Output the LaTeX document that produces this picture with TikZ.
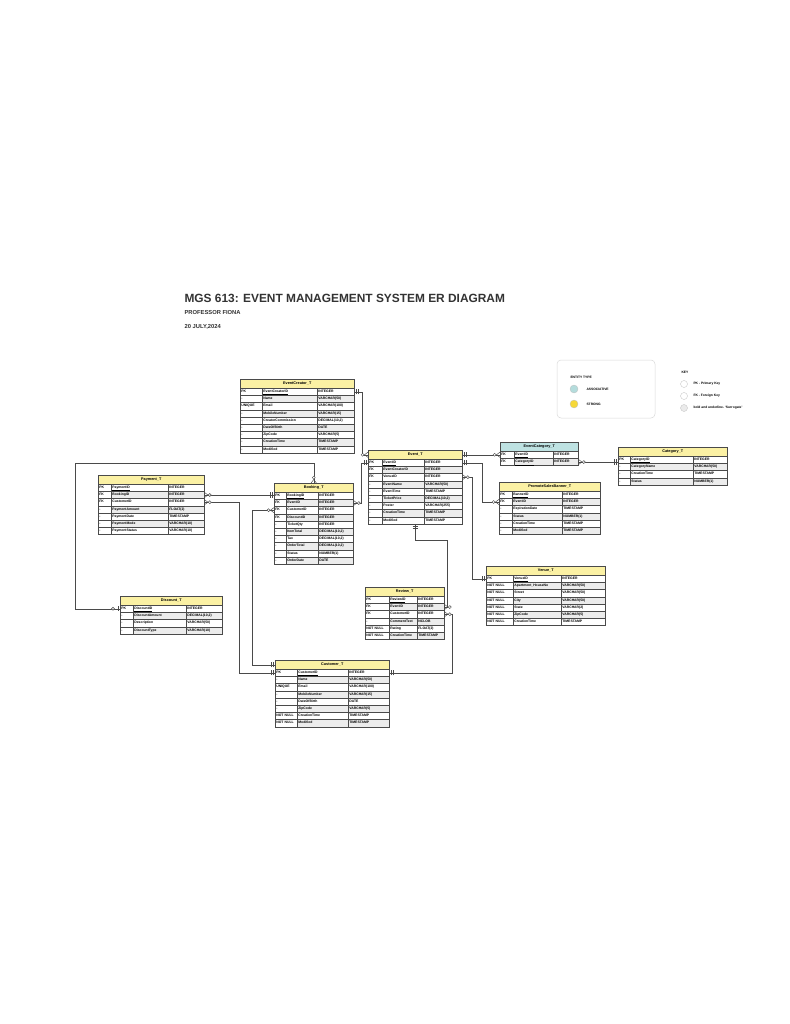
\documentclass[tikz,border=0pt]{standalone}
\usepackage{fontspec}
\setmainfont{Liberation Sans}
\usetikzlibrary{calc,decorations.markings}

\definecolor{hdryellow}{HTML}{FBF1A4}
\definecolor{hdrteal}{HTML}{BEE2E2}
\definecolor{rowgray}{HTML}{ECECEC}
\definecolor{linegray}{HTML}{4A4A4A}
\definecolor{dotyellow}{HTML}{F6D838}
\definecolor{dotteal}{HTML}{B4DCDC}

\tikzset{
  tabhead/.style={draw=linegray, line width=0.5pt, inner sep=0pt, minimum height=9pt,
    anchor=north west, font=\fontsize{3.8}{4}\selectfont\bfseries},
  cell/.style={draw=linegray, line width=0.35pt, inner sep=0pt, inner xsep=1.2pt,
    minimum height=7.2pt, anchor=north west, align=left, text height=2.5pt, text depth=0.9pt,
    font=\fontsize{3.4}{3.8}\selectfont\bfseries},
  rowbox/.style={inner sep=0pt, minimum height=7.2pt, anchor=north west},
  erline/.style={draw=linegray, line width=0.5pt},
  one start/.style={postaction={decorate, decoration={markings,
    mark=at position 2pt with {\draw[linegray, line width=0.45pt] (0,-2.6pt) -- (0,2.6pt);},
    mark=at position 3.6pt with {\draw[linegray, line width=0.45pt] (0,-2.6pt) -- (0,2.6pt);}}}},
  one end/.style={postaction={decorate, decoration={markings,
    mark=at position -3.6pt with {\draw[linegray, line width=0.45pt] (0,-2.6pt) -- (0,2.6pt);},
    mark=at position -2pt with {\draw[linegray, line width=0.45pt] (0,-2.6pt) -- (0,2.6pt);}}}},
  many start/.style={postaction={decorate, decoration={markings,
    mark=at position 0.01pt with {\draw[linegray, line width=0.45pt] (0,2.6pt) -- (3.5pt,0) -- (0,-2.6pt);
      \draw[linegray, line width=0.45pt, fill=white] (5.4pt,0) circle (1.5pt);}}}},
  many end/.style={postaction={decorate, decoration={markings,
    mark=at position -0.01pt with {\draw[linegray, line width=0.45pt] (0,2.6pt) -- (-3.5pt,0) -- (0,-2.6pt);
      \draw[linegray, line width=0.45pt, fill=white] (-5.4pt,0) circle (1.5pt);}}}},
  opt start/.style={postaction={decorate, decoration={markings,
    mark=at position 2.2pt with {\draw[linegray, line width=0.45pt] (0,-2.6pt) -- (0,2.6pt);
      \draw[linegray, line width=0.45pt, fill=white] (4.8pt,0) circle (1.5pt);}}}},
}

% name, x, y, col widths, title, header colour, rows
\newcommand\ertable[9]{%
  \pgfmathsetmacro\tw{#4+#5+#6}
  \pgfmathsetmacro\twa{#4-2.4}
  \pgfmathsetmacro\twb{#5-2.4}
  \pgfmathsetmacro\twc{#6-2.4}
  \node[tabhead, fill=#8, minimum width=\tw pt] (#1) at (#2,#3) {#7};
  \foreach \k/\a/\t [count=\i] in {#9}{
    \pgfmathsetmacro\ry{#3+9+(\i-1)*7.2}
    \ifodd\i \def\rf{white}\else \def\rf{rowgray}\fi
    \node[cell, fill=white, text width=\twa pt] (#1-\i-k) at (#2,\ry) {\k};
    \node[cell, fill=\rf, text width=\twb pt] (#1-\i-a) at (#2+#4,\ry) {\a};
    \node[cell, fill=\rf, text width=\twc pt] (#1-\i-t) at (#2+#4+#5,\ry) {\t};
    \node[rowbox, minimum width=\tw pt] (#1-\i) at (#2,\ry) {};
  }
}

\begin{document}
\begin{tikzpicture}[x=1pt, y=-1pt]
  \fill[white] (0,0) rectangle (789,1024);
  \useasboundingbox (0,0) rectangle (789,1024);

  \node[anchor=west, font=\fontsize{11.9}{12}\selectfont\bfseries, text=black!80] (title) at (181,298)
    {MGS 613: EVENT MANAGEMENT SYSTEM ER DIAGRAM};
  \node[anchor=west, font=\fontsize{5.8}{6}\selectfont\bfseries, text=black!80] (prof) at (181,313) {PROFESSOR FIONA};
  \node[anchor=west, font=\fontsize{5.8}{6}\selectfont\bfseries, text=black!80] (date) at (181,327) {20 JULY,2024};

  % legend
  \draw[black!15, rounded corners=4pt, line width=0.5pt] (557,360) rectangle (655,418);
  \node[anchor=west, font=\fontsize{3.3}{4}\selectfont\bfseries] (enttype) at (567,377) {ENTITY TYPE};
  \node[circle, fill=dotteal, draw=black!25, line width=0.3pt, minimum size=8pt, inner sep=0pt] (assocdot) at (574,389) {};
  \node[anchor=west, font=\fontsize{3.3}{4}\selectfont\bfseries] (assoc) at (583,389) {ASSOCIATIVE};
  \node[circle, fill=dotyellow, draw=black!25, line width=0.3pt, minimum size=8pt, inner sep=0pt] (strongdot) at (574,404) {};
  \node[anchor=west, font=\fontsize{3.3}{4}\selectfont\bfseries] (strong) at (583,404) {STRONG};
  \node[anchor=west, font=\fontsize{3.3}{4}\selectfont\bfseries] (keyhd) at (678,372) {KEY};
  \node[circle, fill=white, draw=black!25, line width=0.3pt, minimum size=7pt, inner sep=0pt] (pkdot) at (684,384) {};
  \node[anchor=west, font=\fontsize{3.3}{4}\selectfont\bfseries] (pkkey) at (690,384) {PK - Primary Key};
  \node[circle, fill=white, draw=black!25, line width=0.3pt, minimum size=7pt, inner sep=0pt] (fkdot) at (684,396) {};
  \node[anchor=west, font=\fontsize{3.3}{4}\selectfont\bfseries] (fkkey) at (690,396) {FK - Foreign Key};
  \node[circle, fill=black!8, draw=black!25, line width=0.3pt, minimum size=7pt, inner sep=0pt] (uldot) at (684,408) {};
  \node[anchor=west, font=\fontsize{3.3}{4}\selectfont\bfseries] (ulkey) at (690,408) {bold and underline- `Surrogate'};

  \ertable{ec}{240}{379}{22}{55}{37}{EventCreator\_T}{hdryellow}{%
    PK/\underline{EventCreatorID}/INTEGER, -/Name/VARCHAR(50), UNIQUE/Email/VARCHAR(100),
    -/MobileNumber/VARCHAR(15), -/CreatorCommission/{DECIMAL(10,2)}, -/DateOfBirth/DATE,
    -/ZipCode/VARCHAR(5), -/CreationTime/TIMESTAMP, -/Modified/TIMESTAMP}

  \ertable{event}{368}{450}{14}{42}{38}{Event\_T}{hdryellow}{%
    PK/\underline{EventID}/INTEGER, FK/EventCreatorID/INTEGER, FK/VenueID/INTEGER,
    -/EventName/VARCHAR(50), -/EventTime/TIMESTAMP, -/TicketPrice/{DECIMAL(10,2)},
    -/Poster/VARCHAR(255), -/CreationTime/TIMESTAMP, -/Modified/TIMESTAMP}

  \ertable{evcat}{500}{442}{14}{39}{25}{EventCategory\_T}{hdrteal}{%
    FK/\underline{EventID}/INTEGER, FK/\underline{CategoryID}/INTEGER}

  \ertable{cat}{618}{447}{12}{63}{34}{Category\_T}{hdryellow}{%
    PK/\underline{CategoryID}/INTEGER, -/CategoryName/VARCHAR(50), -/CreationTime/TIMESTAMP,
    -/Status/NUMBER(1)}

  \ertable{banner}{499}{482}{13}{50}{38}{PromoteSalesBanner\_T}{hdryellow}{%
    PK/\underline{BannerID}/INTEGER, FK/EventID/INTEGER, -/ExpirationDate/TIMESTAMP,
    -/Status/NUMBER(1), -/CreationTime/TIMESTAMP, -/Modified/TIMESTAMP}

  \ertable{pay}{98}{475}{13}{57}{36}{Payment\_T}{hdryellow}{%
    PK/\underline{PaymentID}/INTEGER, FK/BookingID/INTEGER, FK/CustomerID/INTEGER,
    -/PaymentAmount/FLOAT(2), -/PaymentDate/TIMESTAMP, -/PaymentMode/VARCHAR(10),
    -/PaymentStatus/VARCHAR(10)}

  \ertable{book}{274}{483}{12}{32}{35}{Booking\_T}{hdryellow}{%
    PK/\underline{BookingID}/INTEGER, FK/EventID/INTEGER, FK/CustomerID/INTEGER,
    FK/DiscountID/INTEGER, -/TicketQty/INTEGER, -/ItemTotal/{DECIMAL(10,2)},
    -/Tax/{DECIMAL(10,2)}, -/OrderTotal/{DECIMAL(10,2)}, -/Status/NUMBER(1), -/OrderDate/DATE}

  \ertable{disc}{120}{596}{13}{53}{36}{Discount\_T}{hdryellow}{%
    PK/\underline{DiscountID}/INTEGER, -/DiscountAmount/{DECIMAL(10,2)},
    -/Description/VARCHAR(50), -/DiscountType/VARCHAR(10)}

  \ertable{venue}{486}{566}{27}{48}{44}{Venue\_T}{hdryellow}{%
    PK/\underline{VenueID}/INTEGER, NOT NULL/Apartment\_HouseNo/VARCHAR(50),
    NOT NULL/Street/VARCHAR(50), NOT NULL/City/VARCHAR(50), NOT NULL/State/VARCHAR(2),
    NOT NULL/ZipCode/VARCHAR(5), NOT NULL/CreationTime/TIMESTAMP}

  \ertable{review}{365}{587}{24}{28}{27}{Review\_T}{hdryellow}{%
    PK/\underline{ReviewID}/INTEGER, FK/EventID/INTEGER, FK/CustomerID/INTEGER,
    -/CommentText/NCLOB, NOT NULL/Rating/FLOAT(2), NOT NULL/CreationTime/TIMESTAMP}

  \ertable{cust}{275}{660}{22}{51}{41}{Customer\_T}{hdryellow}{%
    PK/\underline{CustomerID}/INTEGER, -/Name/VARCHAR(50), UNIQUE/Email/VARCHAR(100),
    -/MobileNumber/VARCHAR(15), -/DateOfBirth/DATE, -/ZipCode/VARCHAR(5),
    NOT NULL/CreationTime/TIMESTAMP, NOT NULL/Modified/TIMESTAMP}

  % relationships
  \draw[erline, one start, many end] (ec-1.east) -- ++(8,0) |- (event.west);
  \draw[erline, one start, many end] (event-1.west) -- ++(-7,0) |- (book-2.east);
  \draw[erline, one start, many end] (event.east) -- (event.east -| evcat-1.west);
  \draw[erline, many start, one end] (evcat-2.east) -- (evcat-2.east -| cat-1.west);
  \draw[erline, one start, many end] (event-1.east) -- ++(20,0) |- (banner-2.west);
  \draw[erline, many start, one end] (event-3.east) -- ++(10,0) |- (venue-1.west);
  \coordinate (evrev) at (447,540);
  \draw[erline, one start, many end] (event-9.south) |- (evrev) |- (review-2.east);
  \draw[erline, one start, many end] (cust-1.east) -- ++(63,0) |- (review-3.east);
  \draw[erline, many start, one end] (pay-2.east) -- (pay-2.east -| book-1.west);
  \draw[erline, many start, one end] (pay-3.east) -- ++(35,0) |- (cust-1.west);
  \draw[erline, many start, one end] (book-3.west) -- ++(-22,0) |- (cust.west);
  \coordinate (discbend) at (75,463);
  \draw[erline, opt start, many end] (disc-1.west) -| (discbend) -| (book.north);
\end{tikzpicture}
\end{document}
